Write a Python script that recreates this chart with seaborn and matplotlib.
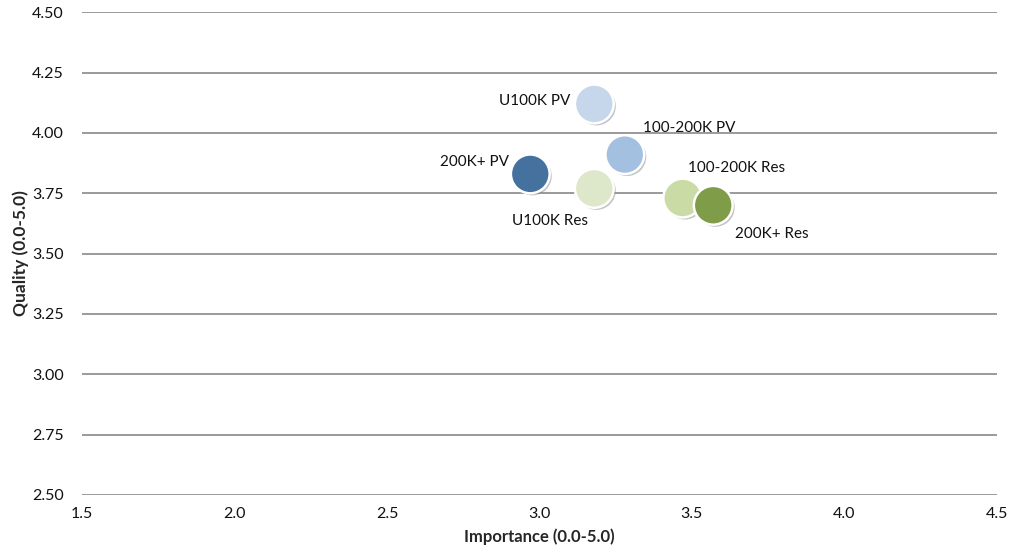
import matplotlib
matplotlib.use('Agg')
import matplotlib.pyplot as plt
import matplotlib.patheffects as pe
import pandas as pd
import seaborn as sns

# Data
segments = ['U100K PV', '100-200K PV', '200K+ PV', 'U100K Res', '100-200K Res', '200K+ Res']
importance = [3.18, 3.28, 2.97, 3.18, 3.47, 3.57]
quality = [4.12, 3.91, 3.83, 3.77, 3.73, 3.70]
colors = ['#c6d7eb', '#a4c0e0', '#45719f', '#dde7c9', '#cbdba6', '#7f9c48']
x_ticks = [1.5, 2.0, 2.5, 3.0, 3.5, 4.0, 4.5]
y_ticks = [2.50, 2.75, 3.00, 3.25, 3.50, 3.75, 4.00, 4.25, 4.50]

df = pd.DataFrame({'segment': segments, 'importance': importance, 'quality': quality})

sns.set_style('white')
plt.rcParams['font.family'] = ['Lato', 'DejaVu Sans']

fig, ax = plt.subplots(figsize=(10.13, 5.56), dpi=100)
fig.subplots_adjust(left=0.081, right=0.984, top=0.978, bottom=0.110)

for y in y_ticks:
    ax.axhline(y, color='#9a9a9a', lw=1.4, zorder=0)

sns.scatterplot(data=df, x='importance', y='quality', hue='segment', palette=colors,
                s=780, edgecolor='white', linewidth=1.8, legend=False, ax=ax, zorder=3,
                path_effects=[pe.SimplePatchShadow(offset=(1.5, -1.5), shadow_rgbFace='#888888', alpha=0.5),
                              pe.Normal()])

# label offsets in pixels, relative to each bubble
offsets = {
    'U100K PV': (-24, 3, 'right'),
    '100-200K PV': (18, 27, 'left'),
    '200K+ PV': (-21, 12, 'right'),
    'U100K Res': (-44, -33, 'center'),
    '100-200K Res': (5, 30, 'left'),
    '200K+ Res': (22, -29, 'left'),
}
for seg, xi, yi in zip(segments, importance, quality):
    dx, dy, ha = offsets[seg]
    ax.annotate(seg, (xi, yi), xytext=(dx, dy), textcoords='offset pixels',
                ha=ha, va='center', fontsize=11, color='#111111', zorder=4)

ax.set_xlim(1.5, 4.5)
ax.set_ylim(2.5, 4.5)
ax.set_xticks(x_ticks)
ax.set_xticklabels([f'{v:.1f}' for v in x_ticks])
ax.set_yticks(y_ticks)
ax.set_yticklabels([f'{v:.2f}' for v in y_ticks])
ax.tick_params(axis='both', length=0, labelsize=11.5, colors='#111111')
ax.tick_params(axis='x', pad=9)
ax.tick_params(axis='y', pad=13)
for sp in ax.spines.values():
    sp.set_visible(False)

ax.set_xlabel('Importance (0.0-5.0)', fontsize=12, fontweight='bold', labelpad=5)
ax.set_ylabel('Quality (0.0-5.0)', fontsize=12.5, fontweight='bold', labelpad=2)

fig.savefig('out.png', dpi=100)
